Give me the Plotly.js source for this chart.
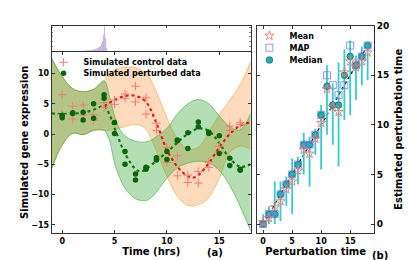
<!DOCTYPE html>
<html><head><meta charset="utf-8">
<script src="https://cdn.plot.ly/plotly-3.0.1.min.js"></script>
<style>html,body{margin:0;padding:0;background:#fff;} #chart{width:415px;height:260px;}</style>
</head><body><div id="chart"></div>
<script>
// ---------- Panel (a): histogram of perturbation time ----------
const histBins = [1.75,1.85,1.95,2.05,2.15,2.25,2.35,2.45,2.55,2.65,2.75,2.85,2.95,3.05,3.15,3.25,3.35,3.45,3.55,3.65,3.75,3.85,3.95,4.05,4.15,4.25,4.35];
const histCounts = [0.6,0.8,1.0,1.0,1.2,1.2,1.3,1.4,1.5,1.6,1.8,2.0,2.2,2.5,2.8,3.2,3.6,4.2,5.0,6.0,8.0,11,17,26,14,4,1];

// ---------- Panel (a): simulated data ----------
const dataTimes = [0,0,1,1,2,2,3,3,4,4,5,5,6,6,7,7,8,8,9,9,10,10,11,11,12,12,13,13,14,14,15,15,16,16,17,17];
const controlValues = [6.5,3.2, 4.6,2.5, 4.8,3.1, 3.2,2.3, 5.2,4.4, 5.6,4.9, 6.6,5.9, 7.9,5.3, 6.0,3.3, 1.8,0.6, -2.2,-4.7, -3.6,-6.9, -8.0,-6.8, -6.2,-8.1, -4.6,-5.5, -2.0,-3.0, 1.3,0.6, 1.6,1.9];
const perturbedValues = [3.1,2.7, 3.5,3.4, 3.6,2.3, 5.0,2.6, 6.5,5.9, 1.9,0.1, -2.9,-5.0, -6.6,-7.6, -5.5,-5.8, -3.9,-4.3, -2.9,-4.2, -1.1,-1.0, 0.2,-2.4, 2.0,1.2, 0.3,0.1, -0.3,-3.2, -4.0,-5.2, -5.8,-6.0];

// GP means
const pertMeanT = [-1,0,1,2,3,4,4.5,5,6,7,7.5,8,9,10,11,12,13,14,15,16,17,18];
const pertMeanY = [3.4,3.3,3.4,3.5,4.0,4.6,3.3,1.0,-3.2,-5.8,-6.2,-5.8,-4.4,-3.0,-1.4,0.0,0.9,0.5,-1.5,-4.0,-5.4,-5.0];
const ctrlMeanT = [4,5,6,7,8,9,10,11,12,12.5,13,14,15,16,17,18];
const ctrlMeanY = [4.6,5.6,6.3,6.3,5.3,1.8,-2.6,-5.4,-7.0,-7.2,-6.8,-4.8,-2.2,0.0,1.4,1.9];

// GP confidence bands
const bandT = [-1,0,1,2,3,4,4.5,5,5.5,6,7,8,8.5,9,10,11,12,13,14,15,16,17,18];
const pertUpper = [12.5,9.5,7.5,7.0,7.4,8.8,6.3,3.0,0.8,-0.3,-1.2,-1.3,-1.0,-0.4,0.9,3.3,5.0,5.7,5.0,3.0,1.2,0.7,3.4];
const pertLower = [-5.7,-1.8,0.1,-0.1,0.6,0.6,-1.0,-4.8,-7.3,-9.0,-10.7,-11.0,-10.5,-9.6,-7.3,-5.6,-4.8,-4.5,-4.8,-6.0,-8.5,-12.0,-16.0];
const ctrlUpper = [12.5,9.5,7.5,7.0,7.4,8.8,10.0,10.6,10.9,11.0,11.0,10.0,8.8,7.0,2.7,-0.8,-2.5,-2.2,0.3,3.2,5.6,8.2,12.0];
const ctrlLower = [-5.7,-1.8,0.1,-0.1,0.6,0.6,0.6,0.8,1.0,1.2,1.6,0.8,-0.8,-2.8,-7.0,-10.3,-11.8,-11.7,-10.5,-7.3,-3.0,-2.0,-2.5];

// ---------- Panel (b): perturbation time estimates ----------
const trueTimes = [0,1,2,3,4,5,6,7,8,9,10,11,12,13,14,15,16,17,18];
const medianEst = [0,1,1,3,4,5,6,8,8,9,11,13.9,12,12,15,16.9,16,16.9,18];
const ciHigh = [1.0,1.8,4.3,4.3,4.8,6.6,6.8,9.2,8.8,9.6,12.0,16.0,14.2,16.3,17.6,18.5,17.0,17.9,18.2];
const ciLow = [0,0,0,0.3,1.8,1.0,4.0,5.0,3.8,7.0,5.5,9.0,8.0,5.8,10.5,11.0,12.5,14.0,14.5];
const mapEst = [0,1,1,3,4,5,6,8,8,9,11,15,14,13,14,18,16,16.9,18];
const meanEst = [0.2,0.6,1.7,2.3,3.5,4.3,5.4,7.5,7.1,8.6,10.2,13.6,11.8,11.3,15.3,16.4,15.8,16.4,17.3];
const diagX = [0,18];
const diagY = [0,18];

const FONT = 'DejaVu Sans';
const bold = (s)=>({family: FONT, size: s, color: '#000', weight: 'bold'});

const errPlus = ciHigh.map((h,i)=>h - medianEst[i]);
const errMinus = ciLow.map((l,i)=>medianEst[i] - l);

const traces = [
  {type:'bar', x: histBins, y: histCounts, width: 0.1, xaxis:'x', yaxis:'y',
   marker:{color:'rgba(150,120,200,0.55)', line:{width:0}}, showlegend:false, hoverinfo:'skip'},
  {x: bandT, y: ctrlLower, xaxis:'x2', yaxis:'y2', mode:'lines', line:{color:'rgba(230,180,60,0.8)', width:0.8, shape:'spline'}, showlegend:false},
  {x: bandT, y: ctrlUpper, xaxis:'x2', yaxis:'y2', mode:'lines', fill:'tonexty', fillcolor:'rgba(250,150,60,0.35)', line:{color:'rgba(230,180,60,0.8)', width:0.8, shape:'spline'}, showlegend:false},
  {x: bandT, y: pertLower, xaxis:'x2', yaxis:'y2', mode:'lines', line:{color:'rgba(60,160,60,0.7)', width:0.8, shape:'spline'}, showlegend:false},
  {x: bandT, y: pertUpper, xaxis:'x2', yaxis:'y2', mode:'lines', fill:'tonexty', fillcolor:'rgba(40,160,40,0.35)', line:{color:'rgba(60,160,60,0.7)', width:0.8, shape:'spline'}, showlegend:false},
  {x: ctrlMeanT, y: ctrlMeanY, xaxis:'x2', yaxis:'y2', mode:'lines', line:{color:'#ff0000', width:2, dash:'dot', shape:'spline'}, showlegend:false},
  {x: pertMeanT, y: pertMeanY, xaxis:'x2', yaxis:'y2', mode:'lines', line:{color:'#137a13', width:2.2, dash:'dot', shape:'spline'}, showlegend:false},
  {x: dataTimes, y: controlValues, xaxis:'x2', yaxis:'y2', mode:'markers', name:'Simulated control data',
   marker:{symbol:'cross-thin', size:6, line:{color:'#f27a7a', width:1}}, legend:'legend'},
  {x: dataTimes, y: perturbedValues, xaxis:'x2', yaxis:'y2', mode:'markers', name:'Simulated perturbed data',
   marker:{symbol:'circle', size:5.5, color:'#0a650a', line:{width:0}}, legend:'legend2'},
  // panel b
  {x: diagX, y: diagY, xaxis:'x3', yaxis:'y3', mode:'lines', line:{color:'#000', width:1.3, dash:'dot'}, showlegend:false},
  {x: trueTimes, y: medianEst, xaxis:'x3', yaxis:'y3', mode:'markers', name:'Median',
   error_y:{type:'data', symmetric:false, array: errPlus, arrayminus: errMinus, color:'#33cccc', thickness:1.8, width:0},
   marker:{symbol:'circle', size:6.5, color:'#1fb3b0', line:{color:'#0b6b6b', width:0.8}}, legend:'legend5'},
  {x: trueTimes, y: mapEst, xaxis:'x3', yaxis:'y3', mode:'markers', name:'MAP',
   marker:{symbol:'square-open', size:7, color:'rgba(120,120,255,0.8)', line:{width:1}}, legend:'legend4'},
  {x: trueTimes, y: meanEst, xaxis:'x3', yaxis:'y3', mode:'markers', name:'Mean',
   marker:{symbol:'star-open', size:7, color:'rgba(255,110,110,0.85)', line:{width:1}}, legend:'legend3'}
];

const axBase = {showgrid:false, zeroline:false, showline:true, linecolor:'#333', linewidth:1, mirror:'allticks',
  ticks:'inside', ticklen:3, tickcolor:'#333', tickfont: bold(8)};

const legBase = {bgcolor:'rgba(0,0,0,0)', borderwidth:0, font: bold(8), xanchor:'left', yanchor:'middle', itemwidth:30};

const layout = {
  width:415, height:260, margin:{l:0,r:0,t:0,b:0}, paper_bgcolor:'#fff', plot_bgcolor:'#fff',
  font:{family:FONT, size:8},
  xaxis: Object.assign({}, axBase, {domain:[0.1246,0.6041], anchor:'y', side:'top', mirror:false, range:[-1,18], tickvals:[0,5,10,15], ticklen:2, showticklabels:false}),
  yaxis: Object.assign({}, axBase, {domain:[0.8012,0.9012], anchor:'x', range:[0,26.5], dtick:5, ticklen:1.5, tickwidth:0.6, showticklabels:false}),
  xaxis2: Object.assign({}, axBase, {domain:[0.1246,0.6041], anchor:'y2', range:[-1,18], tickvals:[0,5,10,15],
    title:{text:'Time (hrs)', font:bold(10), standoff:1}}),
  yaxis2: Object.assign({}, axBase, {domain:[0.1038,0.8012], anchor:'x2', range:[-16.35,13.6], tickvals:[-15,-10,-5,0,5,10],
    title:{text:'Simulated gene expression', font:bold(10), standoff:0}}),
  xaxis3: Object.assign({}, axBase, {domain:[0.620,0.9012], anchor:'y3', range:[-1,19.1], tickvals:[0,5,10,15],
    title:{text:'Perturbation time', font:bold(10), standoff:1}}),
  yaxis3: Object.assign({}, axBase, {domain:[0.1038,0.9012], anchor:'x3', side:'right', range:[-0.9,20], tickvals:[0,5,10,15,20],
    tickfont: bold(9), title:{text:'Estimated perturbation time', font:bold(10), standoff:6}}),
  legend: Object.assign({}, legBase, {x:0.105, y:0.7604}),
  legend2: Object.assign({}, legBase, {x:0.105, y:0.7181}),
  legend3: Object.assign({}, legBase, {x:0.601, y:0.8627}),
  legend4: Object.assign({}, legBase, {x:0.601, y:0.8165}),
  legend5: Object.assign({}, legBase, {x:0.601, y:0.7692}),
  annotations: [
    {text:'(a)', xref:'paper', yref:'paper', x:0.518, y:0.027, showarrow:false, font:bold(10), xanchor:'center', yanchor:'middle'},
    {text:'(b)', xref:'paper', yref:'paper', x:0.916, y:0.019, showarrow:false, font:bold(10), xanchor:'center', yanchor:'middle'}
  ]
};

Plotly.newPlot('chart', traces, layout, {displayModeBar:false, staticPlot:true});
</script></body></html>
